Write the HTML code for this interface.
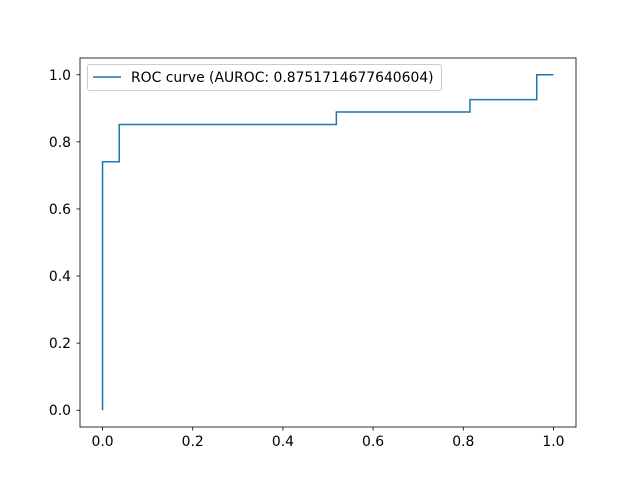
<!DOCTYPE html>
<html><head><meta charset="utf-8"><style>
body{margin:0;background:#fff}
svg text{font-family:"DejaVu Sans","Liberation Sans",sans-serif;font-size:13.9px;fill:#000}
</style></head><body>
<svg width="640" height="480">
<rect width="640" height="480" fill="#fff"/>
<g id="ticks"></g>
<path id="curve" fill="none" stroke="#1f77b4" stroke-width="1.5" stroke-linejoin="miter"/>
<rect x="80" y="58" width="496" height="369" fill="none" stroke="#000" stroke-width="0.8"/>
<g>
<rect x="87.5" y="64.5" width="354" height="26" rx="2" fill="#fff" fill-opacity="0.8" stroke="#ccc"/>
<line x1="93" y1="77" x2="121" y2="77" stroke="#1f77b4" stroke-width="1.5"/>
<text x="131" y="82">ROC curve (AUROC: 0.8751714677640604)</text>
</g>
</svg>
<script>
const fpr=[0,0,1/27,1/27,14/27,14/27,22/27,22/27,26/27,26/27,1];
const tpr=[0,20/27,20/27,23/27,23/27,24/27,24/27,25/27,25/27,1,1];
const xTicks=[0,0.2,0.4,0.6,0.8,1.0];
const yTicks=[0,0.2,0.4,0.6,0.8,1.0];
const X0=80,X1=576,Y0=427,Y1=58,dmin=-0.05,dmax=1.05;
const sx=v=>X0+(v-dmin)/(dmax-dmin)*(X1-X0);
const sy=v=>Y0-(v-dmin)/(dmax-dmin)*(Y0-Y1);
const ns="http://www.w3.org/2000/svg";
const g=document.getElementById('ticks');
function mk(t,a){const e=document.createElementNS(ns,t);for(const k in a)e.setAttribute(k,a[k]);g.appendChild(e);return e;}
xTicks.forEach(v=>{const x=sx(v);
mk('line',{x1:x,y1:Y0,x2:x,y2:Y0+3.5,stroke:'#000','stroke-width':0.8});
const t=mk('text',{x:x,y:Y0+19,'text-anchor':'middle'});t.textContent=v.toFixed(1);

});
yTicks.forEach(v=>{const y=sy(v);
mk('line',{x1:X0,y1:y,x2:X0-3.5,y2:y,stroke:'#000','stroke-width':0.8});
const t=mk('text',{x:X0-9,y:y+5,'text-anchor':'end'});t.textContent=v.toFixed(1);

});
document.getElementById('curve').setAttribute('d',fpr.map((v,i)=>(i?'L':'M')+sx(v)+' '+sy(tpr[i])).join(' '));
</script>
</body></html>
